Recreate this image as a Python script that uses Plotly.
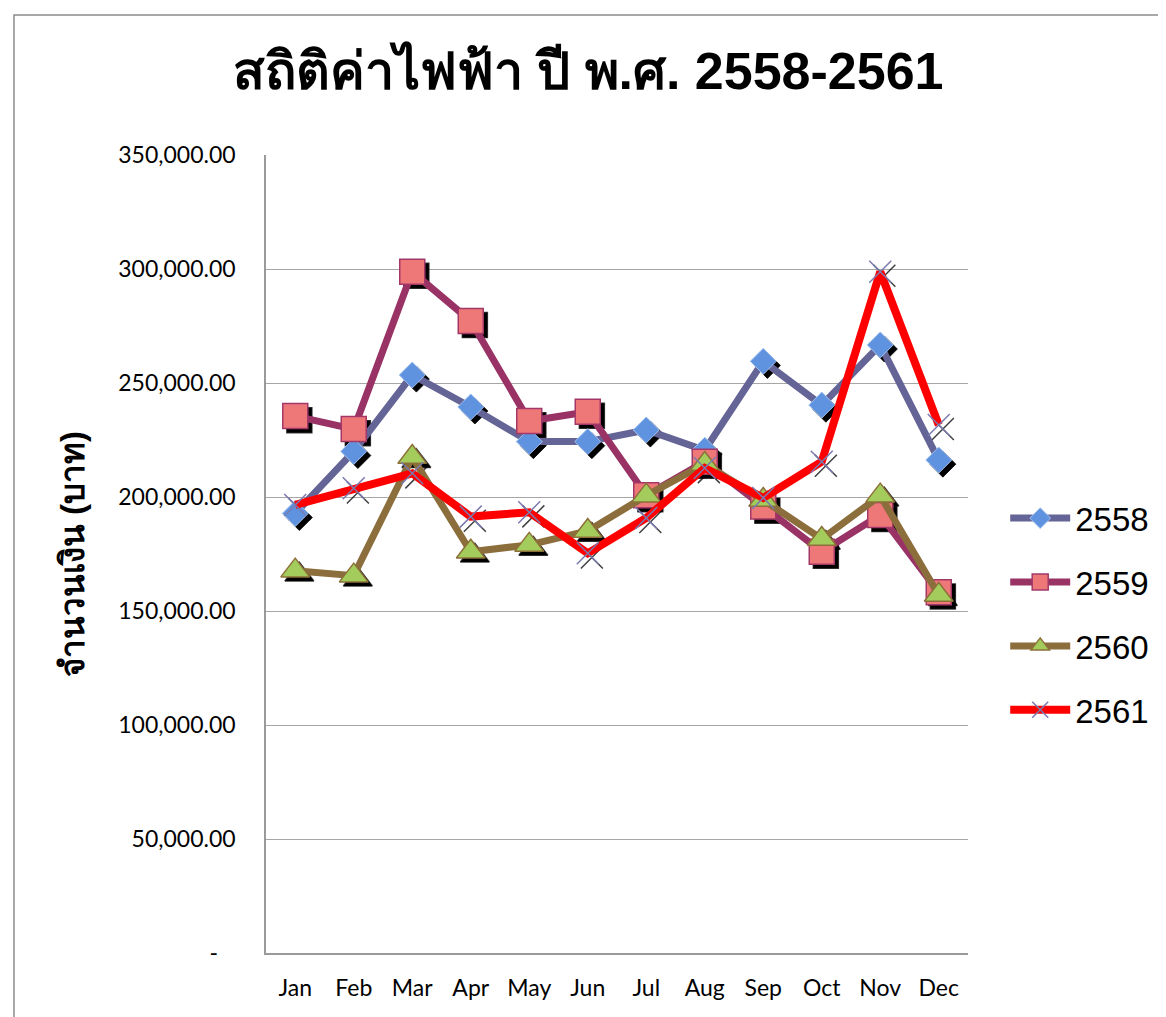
import plotly.graph_objects as go

months = ["Jan", "Feb", "Mar", "Apr", "May", "Jun", "Jul", "Aug", "Sep", "Oct", "Nov", "Dec"]
y2558 = [192800, 220000, 253500, 239500, 224300, 224300, 229400, 220500, 259500, 240300, 266700, 216200]
y2559 = [235500, 229800, 298800, 277200, 233300, 237400, 200800, 215500, 195800, 176000, 192100, 158200]
y2560 = [167700, 165500, 217500, 176000, 179000, 185100, 200600, 214500, 198700, 181600, 200600, 157000]
y2561 = [196500, 203800, 210400, 191400, 193300, 175300, 190800, 212700, 199600, 215500, 298800, 231600]

tick_vals = [0, 50000, 100000, 150000, 200000, 250000, 300000, 350000]
tick_text = ["-\u00a0\u00a0\u00a0", "50,000.00", "100,000.00", "150,000.00", "200,000.00",
             "250,000.00", "300,000.00", "350,000.00"]

series = [
    ("2558", y2558, "#646496", dict(symbol="diamond", size=20, color="#5f93e0", line=dict(color="#a4c2f0", width=1))),
    ("2559", y2559, "#993366", dict(symbol="square", size=25, color="#ee7878", line=dict(color="#a33868", width=1.5))),
    ("2560", y2560, "#8c6e3c", dict(symbol="triangle-up", size=25, color="#a4cc5c", line=dict(color="#8c7038", width=1.5))),
    ("2561", y2561, "#ff0000", dict(symbol="x-thin", size=22, color="#7a7ab0", line=dict(color="#7a7ab0", width=1.5))),
]

fig = go.Figure()

# marker shadows on the base axes (shifted a few px right/down), real series on the overlay axes
for name, vals, lc, mk in series:
    sh = dict(mk)
    sh["color"] = "black"
    sh["line"] = dict(color="rgba(0,0,0,0.75)", width=mk["line"]["width"])
    fig.add_trace(go.Scatter(x=months, y=vals, mode="markers", marker=sh, showlegend=False,
                             hoverinfo="skip", xaxis="x", yaxis="y"))

for name, vals, lc, mk in series:
    fig.add_trace(go.Scatter(x=months, y=vals, mode="lines+markers", name=name, legendgroup=name,
                             line=dict(color=lc, width=8 if name == "2561" else 7),
                             marker=mk, xaxis="x2", yaxis="y2"))

dx = 0.07
dy = 1800
fig.update_layout(
    width=1166, height=1017,
    margin=dict(l=258, r=206, t=147, b=72),
    paper_bgcolor="white", plot_bgcolor="white",
    font=dict(family="Lato, Open Sans, sans-serif", color="black"),
    title=dict(text="<b>สถิติค่าไฟฟ้า ปี พ.ศ. 2558-2561</b>", x=0.4975, xanchor="center", y=0.938, yanchor="middle",
               font=dict(size=52, family="Liberation Sans, Arial, sans-serif", color="black")),
    xaxis=dict(type="category", range=[-0.5 - dx, 11.5 - dx], visible=False, fixedrange=True),
    yaxis=dict(range=[dy, 350000 + dy], visible=False, fixedrange=True),
    xaxis2=dict(type="category", overlaying="x", anchor="y2", range=[-0.5, 11.5],
                showline=True, linecolor="#9a9a9a", linewidth=1.5, showgrid=False,
                ticks="", tickfont=dict(size=23), ticklabelstandoff=14),
    yaxis2=dict(overlaying="y", anchor="x2", range=[0, 350000], side="left",
                tickvals=tick_vals, ticktext=tick_text, tickfont=dict(size=23),
                showline=True, linecolor="#9a9a9a", linewidth=1.5,
                showgrid=True, gridcolor="#a6a6a6", gridwidth=1.2, zeroline=False,
                ticks="", ticklabelstandoff=24,
                title=dict(text="<b>จำนวนเงิน (บาท)</b>", standoff=24,
                           font=dict(size=33, family="Liberation Sans, Arial, sans-serif"))),
    legend=dict(x=1.053, xanchor="left", y=0.58, yanchor="top", font=dict(size=33, family="Liberation Sans, Arial"),
                tracegroupgap=18, itemwidth=60, bgcolor="rgba(0,0,0,0)"),
    showlegend=True,
)

fig.add_shape(type="rect", xref="paper", yref="paper", x0=-0.359, x1=1.35, y0=-0.15, y1=1.1755,
              line=dict(color="#8c8c8c", width=1.5), fillcolor="rgba(0,0,0,0)", layer="below")

fig.write_html("out.html")
